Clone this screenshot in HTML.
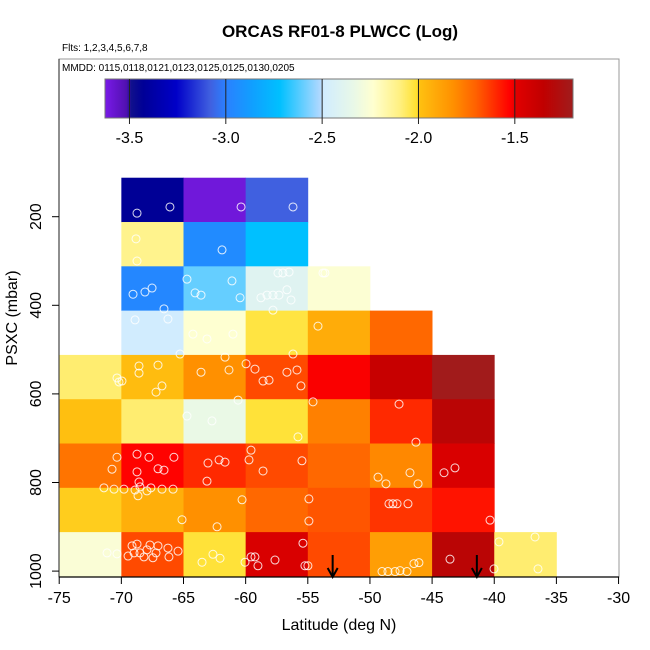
<!DOCTYPE html>
<html><head><meta charset="utf-8"><style>
html,body{margin:0;padding:0;background:#fff;}
svg{display:block;font-family:"Liberation Sans",Arial,sans-serif;}
</style></head><body>
<svg id="chart" width="650" height="650" viewBox="0 0 650 650" xmlns="http://www.w3.org/2000/svg">
<rect width="650" height="650" fill="#fff"/>
<text x="340" y="37" text-anchor="middle" font-size="17" font-weight="bold">ORCAS RF01-8 PLWCC (Log)</text>
<text x="62" y="51" font-size="10">Flts: 1,2,3,4,5,6,7,8</text>
<g id="cells"></g>
<g id="points"></g>
<g id="arrows"></g>
<rect x="59" y="59" width="560" height="518" fill="none" stroke="#999" stroke-width="1"/>
<text x="62" y="71" font-size="10">MMDD: 0115,0118,0121,0123,0125,0125,0130,0205</text>
<g id="colorbar"></g>
<g id="axes"></g>
<text x="339" y="630" text-anchor="middle" font-size="16">Latitude (deg N)</text>
<text transform="translate(17,318) rotate(-90)" text-anchor="middle" font-size="16">PSXC (mbar)</text>
</svg>
<script>
// ---- data ----
const latEdges = [-75,-70,-65,-60,-55,-50,-45,-40,-35];
const pEdges = [112,212,312,412,512,612,712,812,912,1012];
// rows top->bottom, cols by latEdges; null = no data
const row1 = [null,-3.43,-3.6,-3.08,null,null,null,null];
const row2 = [null,-2.12,-2.95,-2.72,null,null,null,null];
const row3 = [null,-2.97,-2.6,-2.4,-2.25,null,null,null];
const row4 = [null,-2.49,-2.24,-2.03,-1.92,-1.72,null,null];
const row5 = [-2.08,-1.98,-1.82,-1.66,-1.52,-1.38,-1.2,null];
const row6 = [-1.99,-2.08,-2.33,-2.02,-1.78,-1.6,-1.32,null];
const row7 = [-1.75,-1.53,-1.6,-1.66,-1.72,-1.8,-1.46,null];
const row8 = [-2.0,-1.93,-1.82,-1.72,-1.68,-1.62,-1.56,null];
const row9 = [-2.26,-1.66,-2.02,-1.46,-1.66,-1.87,-1.32,-2.08];
const gridRows = [row1,row2,row3,row4,row5,row6,row7,row8,row9];
const pointLat = [-68.74,-66.09,-60.37,-56.19,-68.82,-68.74,-61.9,-64.72,-69.06,-68.1,-67.53,-64.07,-63.59,-61.1,-60.45,-66.57,-68.9,-66.25,-57.4,-57.0,-56.51,-58.77,-58.28,-57.8,-57.32,-56.68,-56.35,-57.8,-53.78,-53.62,-54.18,-64.24,-63.11,-61.02,-65.28,-61.66,-56.19,-59.97,-59.25,-56.68,-55.87,-58.6,-58.12,-55.55,-68.58,-68.58,-67.05,-66.73,-67.21,-70.35,-70.19,-69.95,-63.59,-61.34,-60.61,-54.58,-47.66,-64.72,-62.71,-55.79,-46.3,-70.35,-70.75,-68.74,-67.78,-65.77,-68.74,-68.58,-67.05,-66.57,-63.03,-62.14,-61.66,-63.11,-59.57,-59.73,-58.6,-55.47,-49.35,-48.71,-46.78,-46.13,-44.04,-43.16,-71.4,-70.59,-69.79,-68.9,-68.5,-67.94,-67.62,-66.73,-65.84,-68.66,-60.29,-54.91,-48.47,-48.15,-47.82,-46.94,-65.12,-62.3,-54.91,-40.34,-39.62,-36.72,-36.48,-40.02,-43.56,-55.39,-71.15,-70.35,-69.46,-69.14,-68.74,-68.98,-68.5,-68.18,-67.94,-67.7,-67.46,-67.21,-67.05,-66.25,-66.17,-65.44,-63.51,-62.63,-62.06,-60.05,-59.57,-59.25,-59.01,-57.64,-55.23,-54.99,-49.03,-48.55,-47.98,-47.58,-47.02,-46.46,-46.06];
const pointP = [192,178,178,178,250,300,275,341,375,370,361,372,377,345,383,408,433,431,327,327,325,383,377,377,377,365,388,411,327,327,447,465,476,465,510,517,510,532,544,551,546,571,569,582,537,553,535,582,596,564,573,571,551,546,614,618,623,650,661,697,709,743,770,736,743,743,776,799,769,772,756,749,754,797,727,749,774,751,788,803,778,803,778,767,812,815,815,817,810,819,812,815,815,830,839,837,848,848,848,848,884,900,887,885,934,923,995,995,973,937,959,961,966,943,939,959,959,968,952,941,970,959,943,948,968,955,980,962,971,980,968,968,988,975,988,988,1001,1001,1001,999,1001,983,981];
const arrowLat = [-53.0,-41.4];
const xTicks = [-75,-70,-65,-60,-55,-50,-45,-40,-35,-30];
const yTicks = [200,400,600,800,1000];
const cbTicks = [-3.5,-3.0,-2.5,-2.0,-1.5];
const cbTickLabels = ["-3.5","-3.0","-2.5","-2.0","-1.5"];

// ---- scales ----
const X0=59.2, XS=12.43;
const xs = lat => X0 + (lat + 75) * XS;
const ys = p => 216.7 + (p - 200) * 0.443;
const CB_X0=105, CB_X1=573, CB_V0=-3.627, CB_V1=-1.198;
const cbx = v => CB_X0 + (v - CB_V0) / (CB_V1 - CB_V0) * (CB_X1 - CB_X0);

const stopV = [-3.628,-3.516,-3.49,-3.43,-3.256,-3.08,-3.0,-2.86,-2.72,-2.51,-2.495,-2.34,-2.235,-2.097,-2.01,-1.993,-1.82,-1.70,-1.526,-1.49,-1.35,-1.197];
const stopC = ["#7a1ae8","#5010b0","#10108c","#000096","#0000c8","#4060e0","#2a80ff","#10a0ff","#00c0ff","#b0d8ff","#d0ecff","#e8f8e8","#ffffd0","#fff080","#ffe030","#ffc010","#ff9000","#ff6000","#ff0000","#e00000","#c00000","#a01c1c"];
function hex(c){return [1,3,5].map(i=>parseInt(c.substr(i,2),16));}
function cmap(v){
  if(v<=stopV[0]) return stopC[0];
  for(let i=1;i<stopV.length;i++){
    if(v<=stopV[i]){
      const t=(v-stopV[i-1])/(stopV[i]-stopV[i-1]);
      const a=hex(stopC[i-1]), b=hex(stopC[i]);
      return 'rgb('+a.map((x,k)=>Math.round(x+(b[k]-x)*t)).join(',')+')';
    }
  }
  return stopC[stopC.length-1];
}
const NS='http://www.w3.org/2000/svg';
function mk(tag, attrs, parent){
  const e=document.createElementNS(NS,tag);
  for(const k in attrs) e.setAttribute(k,attrs[k]);
  parent.appendChild(e); return e;
}

// cells
const gCells=document.getElementById('cells');
gridRows.forEach((row,r)=>{
  row.forEach((v,c)=>{
    if(v===null) return;
    const x0=xs(latEdges[c]), x1=xs(latEdges[c+1]);
    const y0=ys(pEdges[r]), y1=ys(pEdges[r+1]);
    const el=mk('rect',{x:x0,y:y0,width:x1-x0+0.4,height:y1-y0+0.4,fill:cmap(v)},gCells);
    
    
  });
});

// points
const gPts=document.getElementById('points');
pointLat.forEach((la,i)=>{
  const el=mk('circle',{cx:xs(la),cy:ys(pointP[i]),r:4,fill:'none',stroke:'rgba(255,255,255,0.85)','stroke-width':1},gPts);
  
  
});

// arrows
const gArr=document.getElementById('arrows');
arrowLat.forEach(la=>{
  const x=xs(la);
  const g=mk('g',{},gArr);
  
  
  mk('line',{x1:x,y1:555,x2:x,y2:576,stroke:'#000','stroke-width':2},g);
  mk('polyline',{points:(x-5)+',568 '+x+',577 '+(x+5)+',568',fill:'none',stroke:'#000','stroke-width':2},g);
});

// axes
const gAx=document.getElementById('axes');
mk('line',{x1:59,y1:59,x2:59,y2:577,stroke:'#444','stroke-width':1.2},gAx);
mk('line',{x1:59,y1:577,x2:619,y2:577,stroke:'#000','stroke-width':1.2},gAx);
xTicks.forEach(t=>{
  const x=xs(t);
  mk('line',{x1:x,y1:577,x2:x,y2:584,stroke:'#000'},gAx);
  const tx=mk('text',{x:x,y:603,'text-anchor':'middle','font-size':16},gAx);
  tx.textContent=String(t);
  
  
});
yTicks.forEach(t=>{
  const y=ys(t);
  mk('line',{x1:52,y1:y,x2:59,y2:y,stroke:'#000'},gAx);
  const tx=mk('text',{transform:'translate(41,'+y+') rotate(-90)','text-anchor':'middle','font-size':16},gAx);
  tx.textContent=String(t);
  
  
});

// colorbar
const gCb=document.getElementById('colorbar');
const defs=mk('defs',{},gCb);
const grad=mk('linearGradient',{id:'cbgrad',x1:0,x2:1,y1:0,y2:0},defs);
stopV.forEach((v,i)=>{
  const off=Math.max(0,Math.min(1,(v-CB_V0)/(CB_V1-CB_V0)));
  mk('stop',{offset:off,'stop-color':stopC[i]},grad);
});
const bar=mk('rect',{x:CB_X0,y:79,width:CB_X1-CB_X0,height:39,fill:'url(#cbgrad)',stroke:'#777','stroke-width':1},gCb);


cbTicks.forEach((t,i)=>{
  const x=cbx(t);
  mk('line',{x1:x,y1:79,x2:x,y2:124,stroke:'#222','stroke-width':1},gCb);
  const tx=mk('text',{x:x,y:143,'text-anchor':'middle','font-size':16},gCb);
  tx.textContent=cbTickLabels[i];
  
  
});
</script>
</body></html>
